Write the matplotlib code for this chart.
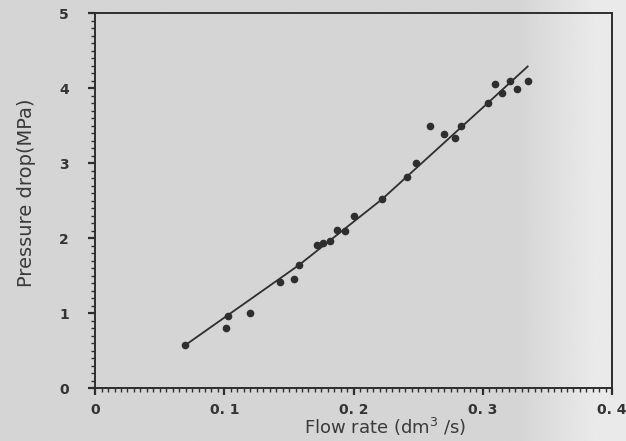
import numpy as np
import matplotlib
matplotlib.use("Agg")
import matplotlib.pyplot as plt
from matplotlib.ticker import MultipleLocator

# measured points (flow rate dm3/s, pressure drop MPa)
flow = [0.0695, 0.103, 0.1015, 0.120, 0.1428, 0.154, 0.1576, 0.172, 0.1764,
        0.1818, 0.187, 0.193, 0.200, 0.222, 0.241, 0.248, 0.259, 0.270,
        0.278, 0.283, 0.3036, 0.309, 0.3147, 0.3206, 0.326, 0.3346]
dp = [0.57, 0.96, 0.80, 1.00, 1.42, 1.46, 1.64, 1.91, 1.94,
      1.96, 2.11, 2.10, 2.29, 2.52, 2.82, 3.00, 3.50, 3.39,
      3.33, 3.49, 3.80, 4.06, 3.93, 4.09, 3.99, 4.09]

# fitted curve as drawn
fit_x = [0.0695, 0.1576, 0.222, 0.3036, 0.3346]
fit_y = [0.57, 1.64, 2.52, 3.80, 4.29]

xticks = [0, 0.1, 0.2, 0.3, 0.4]
xlabels = ["0", "0. 1", "0. 2", "0. 3", "0. 4"]
yticks = [0, 1, 2, 3, 4, 5]

ink = "#2e2e2e"
fig = plt.figure(figsize=(6.26, 4.41), dpi=100)
fig.patch.set_facecolor("#d5d5d5")

# scan-like shading, lighter to the right
bg = fig.add_axes([0, 0, 1, 1], zorder=-10)
grad = np.linspace(0, 1, 300)
shade = 0.835 + 0.08 * np.clip((grad - 0.83) / 0.12, 0, 1)
bg.imshow(np.tile(shade, (10, 1)), cmap="gray", vmin=0, vmax=1,
          aspect="auto", extent=[0, 1, 0, 1])
bg.axis("off")

ax = fig.add_axes([0.152, 0.120, 0.826, 0.850])
ax.patch.set_alpha(0)

ax.plot(fit_x, fit_y, color=ink, lw=1.3, zorder=2)
ax.plot(flow, dp, "o", color=ink, ms=4.5, zorder=3)

ax.set_xlim(0, 0.4)
ax.set_ylim(0, 5)
ax.set_xticks(xticks)
ax.set_xticklabels(xlabels)
ax.set_yticks(yticks)
ax.xaxis.set_minor_locator(MultipleLocator(0.005))
ax.yaxis.set_minor_locator(MultipleLocator(0.1))
ax.tick_params(which="both", direction="out", colors=ink, top=False, right=False)
ax.tick_params(which="major", length=5, width=1.6, labelsize=10)
ax.tick_params(which="minor", length=3, width=1.0)
ax.tick_params(axis="x", pad=6)
ax.tick_params(axis="y", pad=14)
for lab in ax.get_xticklabels() + ax.get_yticklabels():
    lab.set_fontweight("bold")
    lab.set_color("#333333")

for sp in ax.spines.values():
    sp.set_color(ink)
    sp.set_linewidth(1.4)

ax.set_xlabel("Flow rate (dm$^3$ /s)", fontsize=13, color="#3a3a3a")
ax.xaxis.set_label_coords(0.56, -0.075)
ax.set_ylabel("Pressure drop(MPa)", fontsize=14, color="#3a3a3a")
ax.yaxis.set_label_coords(-0.115, 0.52)

fig.savefig("out.png", dpi=100, facecolor=fig.get_facecolor())
